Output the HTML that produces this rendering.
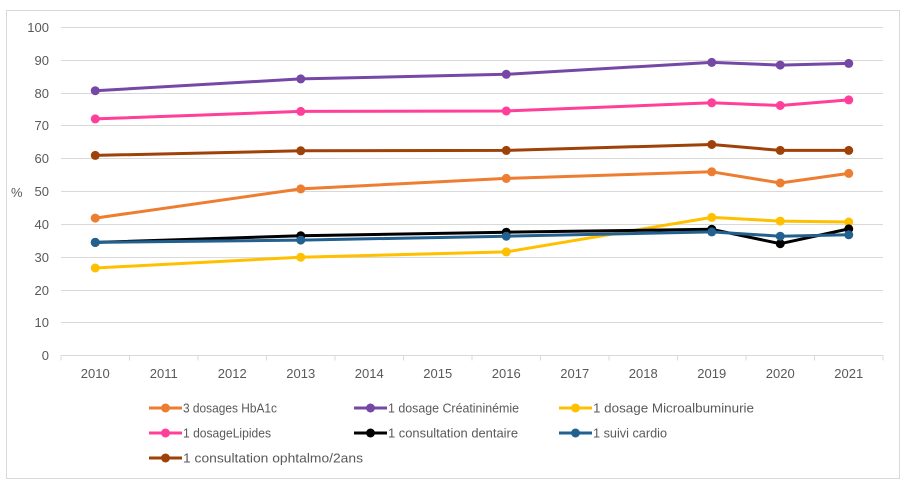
<!DOCTYPE html>
<html><head><meta charset="utf-8"><style>
html,body{margin:0;padding:0;background:#fff;}
svg{display:block;}
text{font-family:"Liberation Sans",sans-serif;fill:#595959;}
</style></head><body>
<svg width="908" height="487" viewBox="0 0 908 487" xmlns="http://www.w3.org/2000/svg">
<rect x="6.5" y="10.5" width="893" height="468" fill="#fff" stroke="#D9D9D9" stroke-width="1"/>
<g stroke="#D9D9D9" stroke-width="1">
<line x1="61" y1="27.5" x2="883" y2="27.5"/>
<line x1="61" y1="60.5" x2="883" y2="60.5"/>
<line x1="61" y1="93.5" x2="883" y2="93.5"/>
<line x1="61" y1="125.5" x2="883" y2="125.5"/>
<line x1="61" y1="158.5" x2="883" y2="158.5"/>
<line x1="61" y1="191.5" x2="883" y2="191.5"/>
<line x1="61" y1="224.5" x2="883" y2="224.5"/>
<line x1="61" y1="257.5" x2="883" y2="257.5"/>
<line x1="61" y1="290.5" x2="883" y2="290.5"/>
<line x1="61" y1="322.5" x2="883" y2="322.5"/>
<line x1="61" y1="355.5" x2="883" y2="355.5"/>
<line x1="61" y1="355.5" x2="61" y2="360.5"/>
<line x1="129.5" y1="355.5" x2="129.5" y2="360.5"/>
<line x1="198" y1="355.5" x2="198" y2="360.5"/>
<line x1="266.5" y1="355.5" x2="266.5" y2="360.5"/>
<line x1="335" y1="355.5" x2="335" y2="360.5"/>
<line x1="403.5" y1="355.5" x2="403.5" y2="360.5"/>
<line x1="472" y1="355.5" x2="472" y2="360.5"/>
<line x1="540.5" y1="355.5" x2="540.5" y2="360.5"/>
<line x1="609" y1="355.5" x2="609" y2="360.5"/>
<line x1="677.5" y1="355.5" x2="677.5" y2="360.5"/>
<line x1="746" y1="355.5" x2="746" y2="360.5"/>
<line x1="814.5" y1="355.5" x2="814.5" y2="360.5"/>
<line x1="883" y1="355.5" x2="883" y2="360.5"/>
</g>
<g font-size="13" text-anchor="end">
<text x="49" y="32">100</text>
<text x="49" y="65">90</text>
<text x="49" y="98">80</text>
<text x="49" y="130">70</text>
<text x="49" y="163">60</text>
<text x="49" y="196">50</text>
<text x="49" y="229">40</text>
<text x="49" y="262">30</text>
<text x="49" y="295">20</text>
<text x="49" y="327">10</text>
<text x="49" y="360">0</text>
</g>
<text x="11" y="197" font-size="13">%</text>
<g font-size="13" text-anchor="middle">
<text x="95.25" y="378">2010</text>
<text x="163.75" y="378">2011</text>
<text x="232.25" y="378">2012</text>
<text x="300.75" y="378">2013</text>
<text x="369.25" y="378">2014</text>
<text x="437.75" y="378">2015</text>
<text x="506.25" y="378">2016</text>
<text x="574.75" y="378">2017</text>
<text x="643.25" y="378">2018</text>
<text x="711.75" y="378">2019</text>
<text x="780.25" y="378">2020</text>
<text x="848.75" y="378">2021</text>
</g>
<g fill="none" stroke-width="3" stroke-linejoin="round">
<polyline stroke="#ED7D31" points="95.25,218.1 300.75,188.9 506.25,178.4 711.75,171.8 780.25,183.0 848.75,173.4"/>
<polyline stroke="#7548A6" points="95.25,90.7 300.75,78.9 506.25,74.3 711.75,62.4 780.25,65.1 848.75,63.4"/>
<polyline stroke="#FFC000" points="95.25,268.0 300.75,257.2 506.25,251.9 711.75,217.4 780.25,221.1 848.75,222.0"/>
<polyline stroke="#FF3F99" points="95.25,118.9 300.75,111.4 506.25,111.0 711.75,102.8 780.25,105.5 848.75,99.9"/>
<polyline stroke="#000000" points="95.25,242.4 300.75,235.8 506.25,232.2 711.75,229.3 780.25,243.7 848.75,228.9"/>
<polyline stroke="#22618F" points="95.25,242.4 300.75,240.1 506.25,236.2 711.75,231.9 780.25,236.2 848.75,234.8"/>
<polyline stroke="#9E4209" points="95.25,155.4 300.75,150.8 506.25,150.4 711.75,144.5 780.25,150.4 848.75,150.4"/>
</g>
<g fill="#ED7D31"><circle cx="95.25" cy="218.1" r="4.5"/><circle cx="300.75" cy="188.9" r="4.5"/><circle cx="506.25" cy="178.4" r="4.5"/><circle cx="711.75" cy="171.8" r="4.5"/><circle cx="780.25" cy="183.0" r="4.5"/><circle cx="848.75" cy="173.4" r="4.5"/></g>
<g fill="#7548A6"><circle cx="95.25" cy="90.7" r="4.5"/><circle cx="300.75" cy="78.9" r="4.5"/><circle cx="506.25" cy="74.3" r="4.5"/><circle cx="711.75" cy="62.4" r="4.5"/><circle cx="780.25" cy="65.1" r="4.5"/><circle cx="848.75" cy="63.4" r="4.5"/></g>
<g fill="#FFC000"><circle cx="95.25" cy="268.0" r="4.5"/><circle cx="300.75" cy="257.2" r="4.5"/><circle cx="506.25" cy="251.9" r="4.5"/><circle cx="711.75" cy="217.4" r="4.5"/><circle cx="780.25" cy="221.1" r="4.5"/><circle cx="848.75" cy="222.0" r="4.5"/></g>
<g fill="#FF3F99"><circle cx="95.25" cy="118.9" r="4.5"/><circle cx="300.75" cy="111.4" r="4.5"/><circle cx="506.25" cy="111.0" r="4.5"/><circle cx="711.75" cy="102.8" r="4.5"/><circle cx="780.25" cy="105.5" r="4.5"/><circle cx="848.75" cy="99.9" r="4.5"/></g>
<g fill="#000000"><circle cx="95.25" cy="242.4" r="4.5"/><circle cx="300.75" cy="235.8" r="4.5"/><circle cx="506.25" cy="232.2" r="4.5"/><circle cx="711.75" cy="229.3" r="4.5"/><circle cx="780.25" cy="243.7" r="4.5"/><circle cx="848.75" cy="228.9" r="4.5"/></g>
<g fill="#22618F"><circle cx="95.25" cy="242.4" r="4.5"/><circle cx="300.75" cy="240.1" r="4.5"/><circle cx="506.25" cy="236.2" r="4.5"/><circle cx="711.75" cy="231.9" r="4.5"/><circle cx="780.25" cy="236.2" r="4.5"/><circle cx="848.75" cy="234.8" r="4.5"/></g>
<g fill="#9E4209"><circle cx="95.25" cy="155.4" r="4.5"/><circle cx="300.75" cy="150.8" r="4.5"/><circle cx="506.25" cy="150.4" r="4.5"/><circle cx="711.75" cy="144.5" r="4.5"/><circle cx="780.25" cy="150.4" r="4.5"/><circle cx="848.75" cy="150.4" r="4.5"/></g>
<!-- legend -->
<g stroke-width="3">
<line x1="149" y1="408" x2="182" y2="408" stroke="#ED7D31"/>
<line x1="354" y1="408" x2="387" y2="408" stroke="#7548A6"/>
<line x1="559" y1="408" x2="592" y2="408" stroke="#FFC000"/>
<line x1="149" y1="433" x2="182" y2="433" stroke="#FF3F99"/>
<line x1="354" y1="433" x2="387" y2="433" stroke="#000000"/>
<line x1="559" y1="433" x2="592" y2="433" stroke="#22618F"/>
<line x1="149" y1="458" x2="182" y2="458" stroke="#9E4209"/>
</g>
<circle cx="165.5" cy="408" r="4.5" fill="#ED7D31"/>
<circle cx="370.5" cy="408" r="4.5" fill="#7548A6"/>
<circle cx="575.5" cy="408" r="4.5" fill="#FFC000"/>
<circle cx="165.5" cy="433" r="4.5" fill="#FF3F99"/>
<circle cx="370.5" cy="433" r="4.5" fill="#000000"/>
<circle cx="575.5" cy="433" r="4.5" fill="#22618F"/>
<circle cx="165.5" cy="458" r="4.5" fill="#9E4209"/>
<g font-size="13">
<text x="183" y="412.5" textLength="94" lengthAdjust="spacingAndGlyphs">3 dosages HbA1c</text>
<text x="388" y="412.5" textLength="131" lengthAdjust="spacingAndGlyphs">1 dosage Créatininémie</text>
<text x="593" y="412.5" textLength="161" lengthAdjust="spacingAndGlyphs">1 dosage Microalbuminurie</text>
<text x="183" y="437.5" textLength="88" lengthAdjust="spacingAndGlyphs">1 dosageLipides</text>
<text x="388" y="437.5" textLength="130" lengthAdjust="spacingAndGlyphs">1 consultation dentaire</text>
<text x="593" y="437.5" textLength="74" lengthAdjust="spacingAndGlyphs">1 suivi cardio</text>
<text x="183" y="462.5" textLength="180" lengthAdjust="spacingAndGlyphs">1 consultation ophtalmo/2ans</text>
</g>
</svg>
</body></html>
